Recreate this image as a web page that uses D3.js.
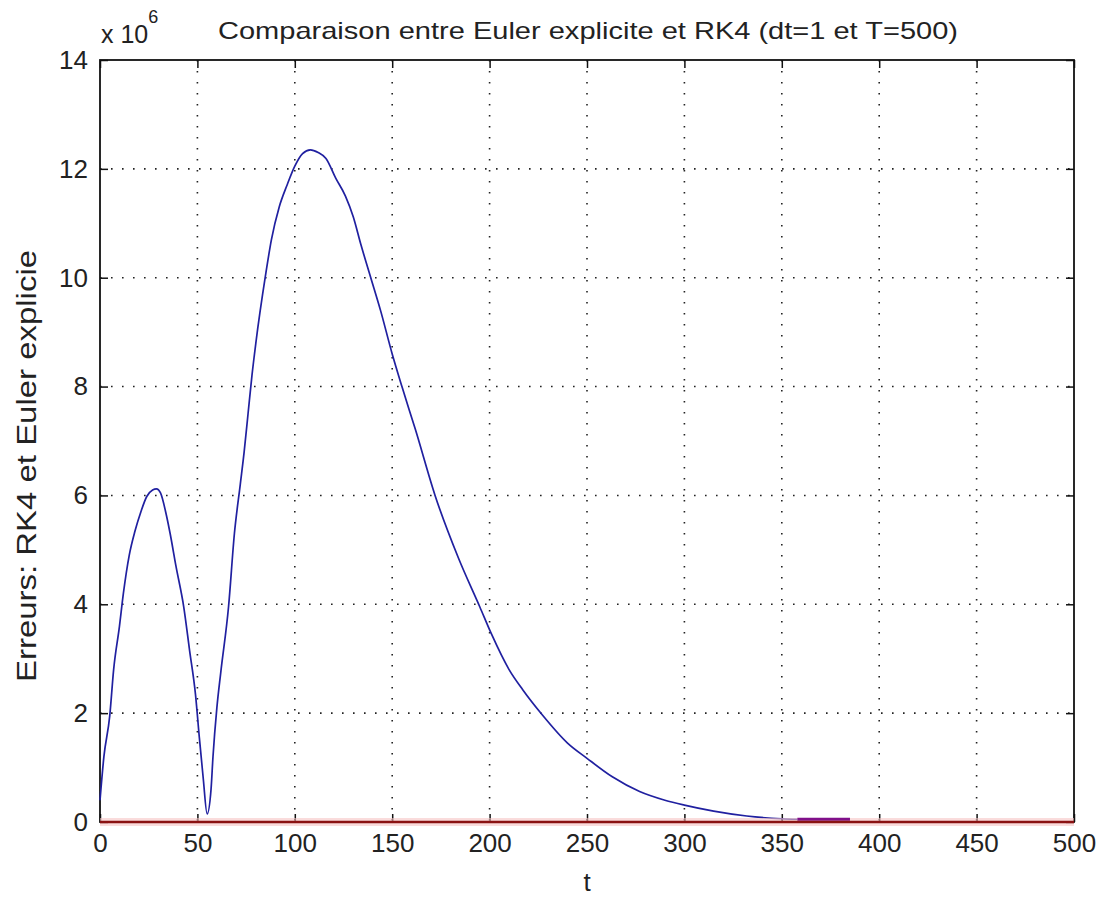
<!DOCTYPE html>
<html><head><meta charset="utf-8">
<script src="https://cdn.jsdelivr.net/npm/d3@7"></script>
<style>
body{margin:0;background:#fff;}
text{font-family:"Liberation Sans",Arial,sans-serif;fill:#222;}
</style></head>
<body><svg id="c" width="1101" height="904"></svg>
<script>
// Euler explicit error (units of 1e6)
const eulerT = [0,2,5,7,10,12,15,18,21,24,27,29,31,34,36,39,43,46,49,51,53,55,57,58,60,62,66,69,72,74,76,78,80,85,88,92,96,100,104,108,112,116,121,126,130,134,139,144,150,155,162,172,184,195,201,210,217,227,240,250,263,277,290,300,315,332,350,358];
const eulerV = [0.4,1.2,1.95,2.8,3.6,4.2,4.9,5.35,5.7,5.98,6.1,6.12,6.05,5.65,5.3,4.7,3.95,3.15,2.35,1.55,0.8,0.15,0.6,1.2,2.1,2.75,3.96,5.3,6.2,6.8,7.5,8.2,8.8,10.05,10.7,11.3,11.7,12.05,12.28,12.35,12.3,12.19,11.83,11.5,11.12,10.6,10.0,9.4,8.6,8.0,7.2,6.0,4.85,3.95,3.45,2.8,2.43,1.97,1.45,1.17,0.83,0.56,0.4,0.31,0.2,0.11,0.06,0.05];
// tail segment drawn in purple
const tailT = [358,385];
const tailV = [0.05,0.05];
// RK4 error (~0)
const rk4T = [0,500];
const rk4V = [0,0];
const xTicks = [0,50,100,150,200,250,300,350,400,450,500];
const yTicks = [0,2,4,6,8,10,12,14];
const title = "Comparaison entre Euler explicite et RK4 (dt=1 et T=500)";
const xLabel = "t";
const yLabel = "Erreurs: RK4 et Euler explicie";

const svg = d3.select("#c");
const L=100,R=1074,T=60,B=822;
const x = d3.scaleLinear().domain([0,500]).range([L,R]);
const y = d3.scaleLinear().domain([0,14]).range([B,T]);

// grid
const g = svg.append("g");
g.selectAll(".gx").data(xTicks.slice(1,-1)).enter().append("line")
 .attr("x1",d=>x(d)).attr("x2",d=>x(d)).attr("y1",T).attr("y2",B)
 .attr("stroke","#222").attr("stroke-width",1.6).attr("stroke-dasharray","1.6,9.4");
g.selectAll(".gy").data(yTicks.slice(1,-1)).enter().append("line")
 .attr("y1",d=>y(d)).attr("y2",d=>y(d)).attr("x1",L).attr("x2",R)
 .attr("stroke","#222").attr("stroke-width",1.6).attr("stroke-dasharray","1.6,9.4");

// axes with inward ticks
const tk=8;
svg.append("g").attr("transform",`translate(0,${B})`)
 .call(d3.axisBottom(x).tickValues(xTicks).tickSize(-tk).tickPadding(12).tickFormat(d3.format("d")))
 .call(a=>a.select(".domain").remove());
svg.append("g").attr("transform",`translate(0,${T})`)
 .call(d3.axisTop(x).tickValues(xTicks).tickSize(-tk).tickFormat(""))
 .call(a=>a.select(".domain").remove());
svg.append("g").attr("transform",`translate(${L},0)`)
 .call(d3.axisLeft(y).tickValues(yTicks).tickSize(-tk).tickPadding(12).tickFormat(d3.format("d")))
 .call(a=>a.select(".domain").remove());
svg.append("g").attr("transform",`translate(${R},0)`)
 .call(d3.axisRight(y).tickValues(yTicks).tickSize(-tk).tickFormat(""))
 .call(a=>a.select(".domain").remove());
svg.selectAll(".tick line").attr("stroke","#111").attr("stroke-width",1.5);
svg.selectAll(".tick text").attr("font-size",26).attr("fill","#2a2a2a")
 .attr("font-family","Liberation Sans, Arial, sans-serif");

// frame
svg.append("rect").attr("x",L).attr("y",T).attr("width",R-L).attr("height",B-T)
 .attr("fill","none").attr("stroke","#111").attr("stroke-width",1.8);

// lines
const line = d3.line().x(d=>x(d[0])).y(d=>y(d[1])).curve(d3.curveMonotoneX);
svg.append("path").datum(d3.zip(eulerT,eulerV)).attr("d",line)
 .attr("fill","none").attr("stroke","#2020a0").attr("stroke-width",1.7);
svg.append("path").datum(d3.zip(rk4T,rk4V)).attr("d",line)
 .attr("fill","none").attr("stroke","#f6c4c4").attr("stroke-width",8).attr("opacity",0.6);
svg.append("path").datum(d3.zip(tailT,tailV)).attr("d",line)
 .attr("fill","none").attr("stroke","#80108a").attr("stroke-width",3);
svg.append("path").datum(d3.zip(rk4T,rk4V)).attr("d",line)
 .attr("fill","none").attr("stroke","#8a1212").attr("stroke-width",2.6);

// title
svg.append("text").attr("x",218).attr("y",39).attr("font-size",24)
 .attr("textLength",740).attr("lengthAdjust","spacingAndGlyphs").text(title);
// exponent
const ex = svg.append("text").attr("x",101).attr("y",43).attr("font-size",25);
ex.append("tspan").text("x 10");
ex.append("tspan").attr("dy",-20).attr("font-size",18).text("6");
// x label
svg.append("text").attr("x",587).attr("y",891).attr("text-anchor","middle").attr("font-size",26).text(xLabel);
// y label
svg.append("text").attr("transform","translate(36,466) rotate(-90)").attr("text-anchor","middle")
 .attr("font-size",27).attr("textLength",432).attr("lengthAdjust","spacingAndGlyphs").text(yLabel);
</script></body></html>
